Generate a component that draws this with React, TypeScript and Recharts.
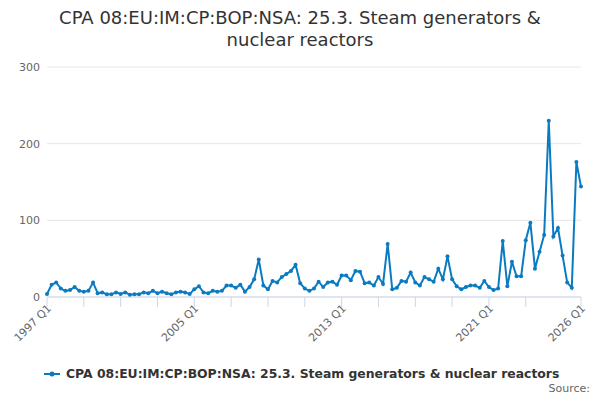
import { LineChart, Line, XAxis, YAxis, CartesianGrid } from 'recharts'

// quarterly values, 1997 Q1 .. 2026 Q1
const values = [
  4, 16, 19, 11, 8, 9, 13, 8, 7, 8, 19, 5, 6, 3.5, 3.5, 6, 4, 6, 3, 3.5,
  3.5, 6, 5, 8, 5, 7, 5, 3.5, 6, 7, 6, 4, 10, 14, 6, 5, 8, 7, 8, 15,
  15, 12, 16, 7, 13, 23, 49, 15, 10, 21, 19, 26, 30, 34, 42, 18, 11, 8, 11, 20,
  13, 19, 20, 16, 28, 28, 22, 34, 33, 18, 19, 15, 26, 17, 69, 10, 12, 21, 20, 32,
  19, 15, 26, 23, 20, 37, 23, 53, 23, 14, 10, 13, 15, 15, 12, 21, 13, 9, 11, 73,
  14, 46, 27, 27, 74, 97, 37, 59, 81, 230, 79, 90, 54, 19, 12, 176, 144,
]

const quarters: string[] = []
for (let y = 1997; y <= 2026; y++) {
  for (let q = 1; q <= 4; q++) quarters.push(`${y} Q${q}`)
}

const xTicks = [0, 8, 16, 24, 32, 40, 48, 56, 64, 72, 80, 88, 96, 104, 116]
const xLabels = [0, 32, 64, 96, 116]
const yTicks = [0, 100, 200, 300]

const seriesName = 'CPA 08:EU:IM:CP:BOP:NSA: 25.3. Steam generators & nuclear reactors'
const color = '#0b7bc1'
const font = '"DejaVu Sans", sans-serif'

const data = values.map((v, i) => ({ i, quarter: quarters[i], value: v }))

function QuarterTick({ x, y, payload }: any) {
  const idx = payload.value
  if (!xLabels.includes(idx)) return <g />
  const tx = x + 5
  const ty = y
  return (
    <text
      x={tx}
      y={ty}
      transform={`rotate(-45 ${tx} ${ty})`}
      textAnchor="end"
      fontSize={11}
      fill="#666"
      fontFamily={font}
    >
      {quarters[idx]}
    </text>
  )
}

export default function App() {
  return (
    <div style={{ position: 'absolute', left: 0, top: 0, width: 600, height: 400, fontFamily: font }}>
      <div
        style={{
          position: 'absolute',
          top: 7,
          width: 600,
          textAlign: 'center',
          fontSize: 18,
          lineHeight: '22px',
          color: '#333',
        }}
      >
        CPA 08:EU:IM:CP:BOP:NSA: 25.3. Steam generators &amp;
        <br />
        nuclear reactors
      </div>
      <LineChart width={600} height={400} data={data} margin={{ top: 67, right: 19, left: 0, bottom: 43 }}>
        <CartesianGrid vertical={false} stroke="#e6e6e6" />
        <XAxis
          type="number"
          dataKey="i"
          domain={[0, 116]}
          ticks={xTicks}
          interval={0}
          height={60}
          tick={<QuarterTick />}
          tickSize={10}
          tickLine={{ stroke: '#ccd6eb' }}
          axisLine={{ stroke: '#ccd6eb' }}
        />
        <YAxis
          domain={[0, 300]}
          ticks={yTicks}
          width={47}
          axisLine={false}
          tickLine={false}
          tickSize={0}
          tickMargin={7}
          tick={{ fontSize: 11, fill: '#666', fontFamily: font }}
        />
        <Line
          type="linear"
          dataKey="value"
          stroke={color}
          strokeWidth={2}
          dot={{ r: 2, fill: color, stroke: color, strokeWidth: 0 }}
          isAnimationActive={false}
        />
      </LineChart>
      <div style={{ position: 'absolute', top: 366, left: 44, display: 'flex', alignItems: 'center' }}>
        <svg width={16} height={12} style={{ marginRight: 6 }}>
          <line x1={0} y1={6} x2={16} y2={6} stroke={color} strokeWidth={2} />
          <circle cx={8} cy={6} r={2.5} fill={color} />
        </svg>
        <span style={{ fontSize: 12.4, fontWeight: 'bold', color: '#333' }}>{seriesName}</span>
      </div>
      <div style={{ position: 'absolute', top: 382, right: 10, fontSize: 11, color: '#666' }}>Source:</div>
    </div>
  )
}
